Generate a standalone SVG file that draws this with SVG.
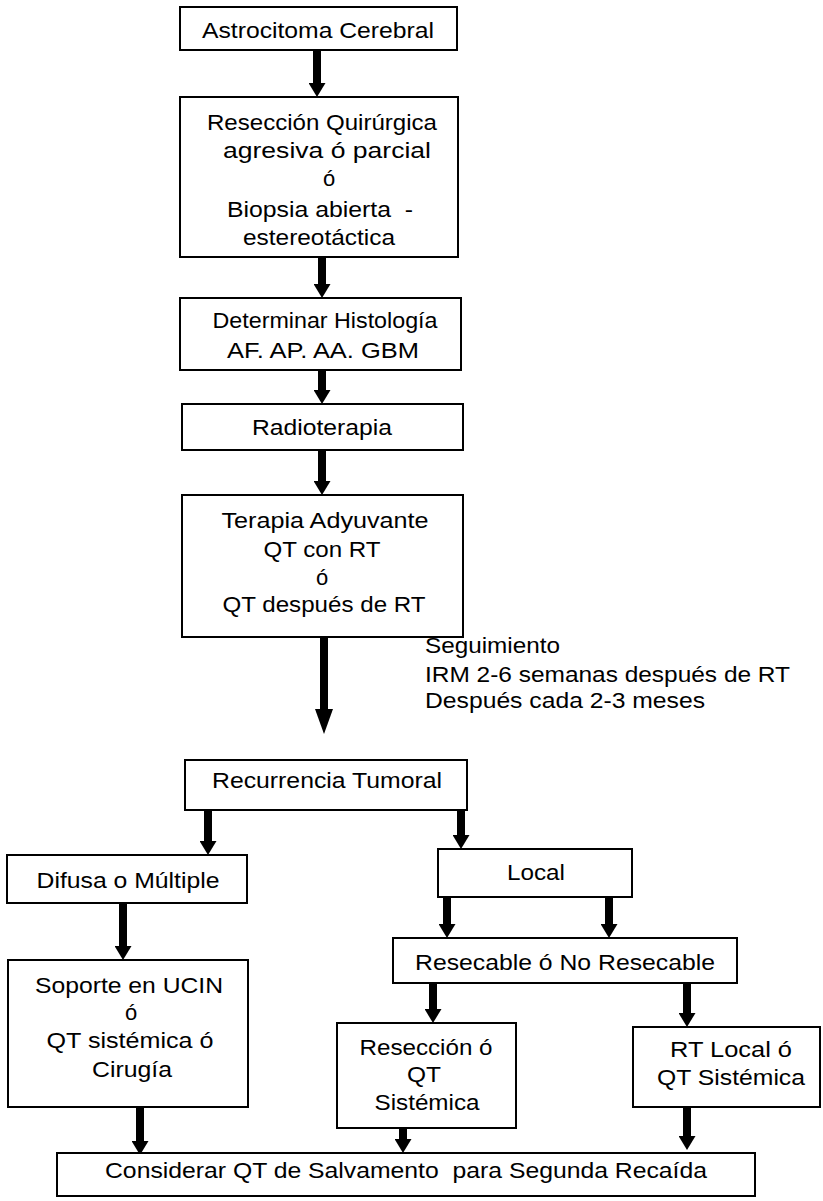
<svg xmlns="http://www.w3.org/2000/svg" width="823" height="1201" viewBox="0 0 823 1201">
<style>
.box{fill:#fff;stroke:#000;stroke-width:2}
.t{font-family:"Liberation Sans",Arial,Helvetica,sans-serif;font-size:22px;fill:#000;text-anchor:middle}
.l{font-family:"Liberation Sans",Arial,Helvetica,sans-serif;font-size:22px;fill:#000}
.c{stroke:#000;stroke-width:8;fill:none}
.s{marker-end:url(#ah)}
.b{marker-end:url(#ahl)}
</style>
<defs>
<marker id="ah" markerUnits="userSpaceOnUse" orient="auto" markerWidth="14" markerHeight="17" viewBox="0 -8.5 14 17" refX="0" refY="0"><path d="M0,-8.5 L14,0 L0,8.5 z" fill="#000"/></marker>
<marker id="ahl" markerUnits="userSpaceOnUse" orient="auto" markerWidth="25" markerHeight="18" viewBox="0 -9 25 18" refX="0" refY="0"><path d="M0,-9 L25,0 L0,9 z" fill="#000"/></marker>
</defs>
<rect width="823" height="1201" fill="#fff"/>
<g id="connectors">
<line class="c s" x1="317" y1="50" x2="317" y2="83"/>
<line class="c s" x1="322" y1="257" x2="322" y2="284"/>
<line class="c s" x1="322" y1="370" x2="322" y2="390"/>
<line class="c s" x1="322" y1="450" x2="322" y2="481"/>
<line class="c b" x1="324" y1="637" x2="324" y2="709"/>
<line class="c s" x1="208" y1="810" x2="208" y2="841"/>
<line class="c s" x1="461" y1="810" x2="461" y2="835"/>
<line class="c s" x1="447" y1="897" x2="447" y2="924"/>
<line class="c s" x1="609" y1="897" x2="609" y2="924"/>
<line class="c s" x1="123" y1="903" x2="123" y2="946"/>
<line class="c s" x1="140" y1="1107" x2="140" y2="1141"/>
<line class="c s" x1="433" y1="983" x2="433" y2="1009"/>
<line class="c s" x1="687" y1="983" x2="687" y2="1013"/>
<line class="c s" x1="403" y1="1128" x2="403" y2="1139"/>
<line class="c s" x1="687" y1="1107" x2="687" y2="1136"/>
</g>
<g id="n1"><rect class="box" x="180" y="7" width="277" height="43"/><text class="t" x="318" y="38" textLength="232" lengthAdjust="spacingAndGlyphs">Astrocitoma Cerebral</text></g>
<g id="n2"><rect class="box" x="180" y="97" width="278" height="160"/>
<text class="t" x="322" y="130" textLength="230" lengthAdjust="spacingAndGlyphs">Resección Quirúrgica</text>
<text class="t" x="327" y="158" textLength="208" lengthAdjust="spacingAndGlyphs">agresiva ó parcial</text>
<text class="t" x="329" y="186">ó</text>
<text class="t" x="320" y="217" textLength="186" lengthAdjust="spacingAndGlyphs" xml:space="preserve">Biopsia abierta  -</text>
<text class="t" x="319" y="245" textLength="152" lengthAdjust="spacingAndGlyphs">estereotáctica</text></g>
<g id="n3"><rect class="box" x="180" y="298" width="281" height="72"/>
<text class="t" x="325" y="328" textLength="225" lengthAdjust="spacingAndGlyphs">Determinar Histología</text>
<text class="t" x="323" y="358" textLength="192" lengthAdjust="spacingAndGlyphs">AF. AP. AA. GBM</text></g>
<g id="n4"><rect class="box" x="182" y="404" width="281" height="46"/>
<text class="t" x="322" y="435" textLength="140" lengthAdjust="spacingAndGlyphs">Radioterapia</text></g>
<g id="n5"><rect class="box" x="182" y="495" width="281" height="142"/>
<text class="t" x="325" y="528" textLength="207" lengthAdjust="spacingAndGlyphs">Terapia Adyuvante</text>
<text class="t" x="322" y="557" textLength="117" lengthAdjust="spacingAndGlyphs">QT con RT</text>
<text class="t" x="322" y="585">ó</text>
<text class="t" x="324" y="612" textLength="203" lengthAdjust="spacingAndGlyphs">QT después de RT</text></g>
<g id="followup">
<text class="l" x="425" y="653" textLength="135" lengthAdjust="spacingAndGlyphs">Seguimiento</text>
<text class="l" x="425" y="682" textLength="365" lengthAdjust="spacingAndGlyphs">IRM 2-6 semanas después de RT</text>
<text class="l" x="425" y="708" textLength="280" lengthAdjust="spacingAndGlyphs">Después cada 2-3 meses</text></g>
<g id="n6"><rect class="box" x="185" y="760" width="282" height="50"/>
<text class="t" x="327" y="788" textLength="230" lengthAdjust="spacingAndGlyphs">Recurrencia Tumoral</text></g>
<g id="n7"><rect class="box" x="7" y="855" width="240" height="48"/>
<text class="t" x="128" y="888" textLength="183" lengthAdjust="spacingAndGlyphs">Difusa o Múltiple</text></g>
<g id="n8"><rect class="box" x="438" y="849" width="194" height="48"/>
<text class="t" x="536" y="880" textLength="58" lengthAdjust="spacingAndGlyphs">Local</text></g>
<g id="n9"><rect class="box" x="393" y="938" width="344" height="45"/>
<text class="t" x="565" y="970" textLength="300" lengthAdjust="spacingAndGlyphs">Resecable ó No Resecable</text></g>
<g id="n10"><rect class="box" x="8" y="960" width="240" height="147"/>
<text class="t" x="129" y="993" textLength="188" lengthAdjust="spacingAndGlyphs">Soporte en UCIN</text>
<text class="t" x="131" y="1020">ó</text>
<text class="t" x="130" y="1048" textLength="167" lengthAdjust="spacingAndGlyphs">QT sistémica ó</text>
<text class="t" x="132" y="1077" textLength="80" lengthAdjust="spacingAndGlyphs">Cirugía</text></g>
<g id="n11"><rect class="box" x="337" y="1023" width="179" height="105"/>
<text class="t" x="426" y="1055" textLength="133" lengthAdjust="spacingAndGlyphs">Resección ó</text>
<text class="t" x="424" y="1082" textLength="34" lengthAdjust="spacingAndGlyphs">QT</text>
<text class="t" x="427" y="1110" textLength="105" lengthAdjust="spacingAndGlyphs">Sistémica</text></g>
<g id="n12"><rect class="box" x="633" y="1027" width="187" height="80"/>
<text class="t" x="731" y="1057" textLength="122" lengthAdjust="spacingAndGlyphs">RT Local ó</text>
<text class="t" x="731" y="1085" textLength="148" lengthAdjust="spacingAndGlyphs">QT Sistémica</text></g>
<g id="n13"><rect class="box" x="57" y="1153" width="698" height="43"/>
<text class="t" x="406" y="1178" textLength="602" lengthAdjust="spacingAndGlyphs" xml:space="preserve">Considerar QT de Salvamento  para Segunda Recaída</text></g>
</svg>
